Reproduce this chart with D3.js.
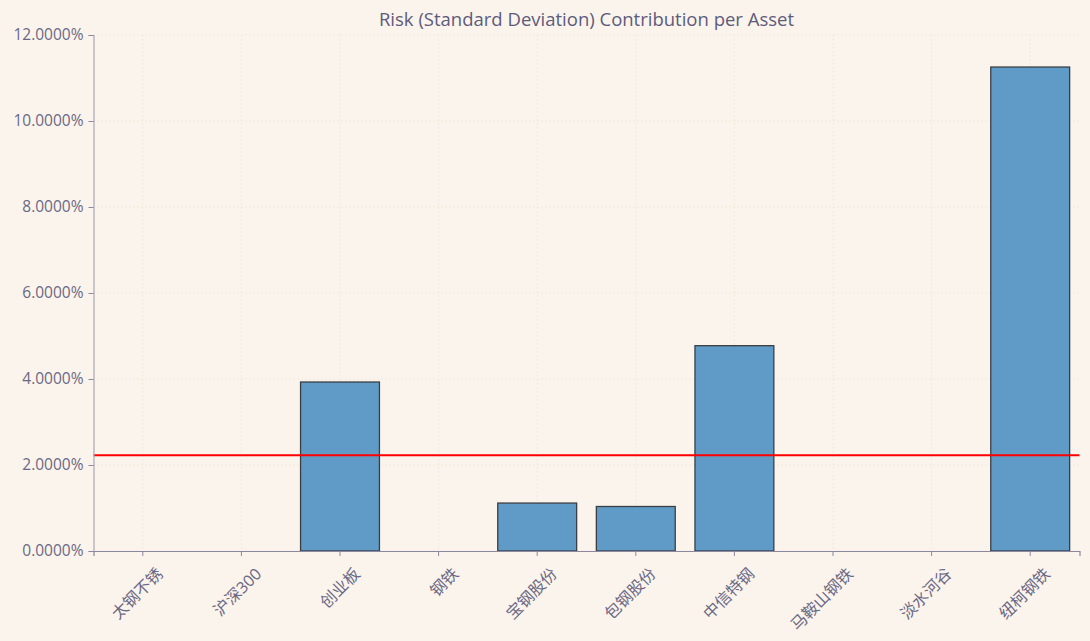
<!DOCTYPE html>
<html><head><meta charset="utf-8">
<script src="https://cdn.jsdelivr.net/npm/d3@7"></script>
<style>
body{margin:0;background:#faf4ec;}
svg{display:block;}
text{font-family:"Open Sans","Noto Sans","Noto Sans CJK SC",sans-serif;fill:#5e5b7c;}
</style></head>
<body><svg id="c" width="1090" height="641"></svg>
<script>
const categories = ["太钢不锈","沪深300","创业板","钢铁","宝钢股份","包钢股份","中信特钢","马鞍山钢铁","淡水河谷","纽柯钢铁"];
const riskContribution = [0, 0, 3.93, 0, 1.115, 1.035, 4.775, 0, 0, 11.255];
const meanLine = 2.225;
const yTicks = [0, 2, 4, 6, 8, 10, 12];
const title = "Risk (Standard Deviation) Contribution per Asset";

const svg = d3.select("#c");
svg.append("rect").attr("width",1090).attr("height",641).attr("fill","#faf4ec");
const m = {l:93.5, r:1079.5, t:35, b:551};
const x = d3.scaleBand().domain(categories).range([m.l, m.r]).paddingInner(0.2).paddingOuter(0.1);
const y = d3.scaleLinear().domain([0,12]).range([m.b, m.t]);

// grid
const g = svg.append("g");
g.selectAll(".gy").data(yTicks).join("line")
  .attr("x1",m.l).attr("x2",m.r).attr("y1",d=>y(d)).attr("y2",d=>y(d))
  .attr("stroke","#f0e6d8").attr("stroke-dasharray","1.5,2.5").attr("stroke-width",1);
g.selectAll(".gx").data(categories).join("line")
  .attr("x1",d=>x(d)+x.bandwidth()/2).attr("x2",d=>x(d)+x.bandwidth()/2).attr("y1",m.t).attr("y2",m.b)
  .attr("stroke","#f0e6d8").attr("stroke-dasharray","1.5,2.5").attr("stroke-width",1);

// bars
svg.append("g").selectAll("rect").data(riskContribution).join("rect")
  .attr("x",(d,i)=>x(categories[i]))
  .attr("y",d=>y(d) - (d>0?0:1.5))
  .attr("width",x.bandwidth())
  .attr("height",d=>y(0)-y(d))
  .attr("fill","#5f9bc6")
  .attr("stroke",d=>d>0?"#3b3f44":"#c9c5cc")
  .attr("stroke-width",1.3);

// mean line
svg.append("line").attr("x1",m.l).attr("x2",m.r).attr("y1",y(meanLine)).attr("y2",y(meanLine))
  .attr("stroke","#ff0000").attr("stroke-width",2);

// axes
const yAxis = d3.axisLeft(y).tickValues(yTicks).tickFormat(d=>d.toFixed(4)+"%").tickSize(5).tickPadding(5);
const ya = svg.append("g").attr("transform",`translate(${m.l},0)`).call(yAxis);
ya.select(".domain").attr("stroke","#aaa6b6").attr("stroke-width",1.2);
ya.selectAll(".tick line").attr("stroke","#8b88a0");
ya.selectAll("text").attr("font-size",15.5).style("fill","#6b6885").attr("font-family","'Open Sans',sans-serif");

const xAxis = d3.axisBottom(x).tickSize(5).tickPadding(4);
const xa = svg.append("g").attr("transform",`translate(0,${m.b})`).call(xAxis);
xa.select(".domain").attr("stroke","#8b88a0").attr("stroke-width",1.2);
xa.selectAll(".tick line").attr("stroke","#8b88a0");
xa.selectAll("text").attr("font-size",16).style("fill","#6b6885")
  .attr("font-family","'Noto Sans CJK SC',sans-serif")
  .attr("text-anchor","end").attr("dy","0.35em")
  .attr("transform","translate(17,20) rotate(-45)").attr("y",0).attr("x",0);

svg.append("text").attr("x",(m.l+m.r)/2).attr("y",26).attr("text-anchor","middle")
  .attr("font-size",18.5).style("fill","#5e5b7c").text(title);
</script></body></html>
